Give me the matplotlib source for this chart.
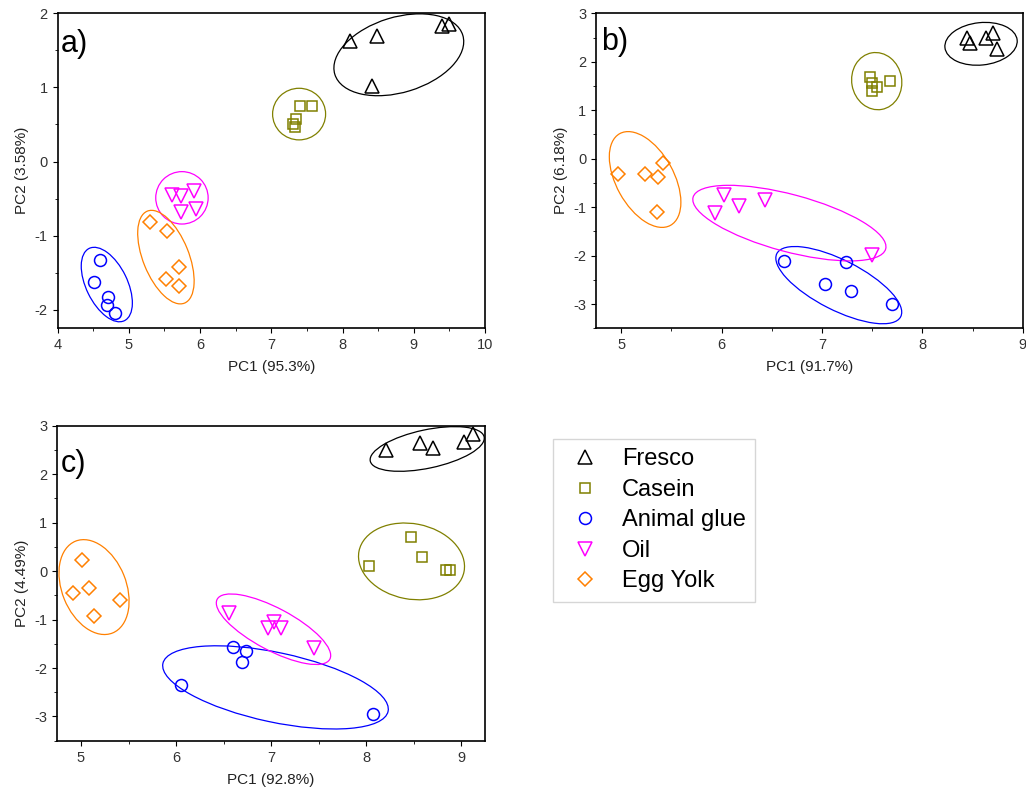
import matplotlib
matplotlib.use("Agg")
import matplotlib.pyplot as plt
from matplotlib.patches import Ellipse
from matplotlib.lines import Line2D
from matplotlib.transforms import Affine2D
from matplotlib.ticker import MultipleLocator

plt.rcParams.update({
    'font.family': ['Liberation Sans', 'DejaVu Sans'],
    'font.size': 10,
    'axes.linewidth': 1.2,
    'axes.unicode_minus': False,
    'xtick.direction': 'out',
    'ytick.direction': 'out',
    'xtick.major.size': 3.6,
    'ytick.major.size': 3.6,
    'xtick.minor.size': 2.2,
    'ytick.minor.size': 2.2,
    'xtick.labelsize': 10.5,
    'ytick.labelsize': 10.5,
    'xtick.labelcolor': '#333333',
    'ytick.labelcolor': '#333333',
})

groups = ['Fresco', 'Casein', 'Animal glue', 'Oil', 'Egg Yolk']
colors = ['#000000', '#808000', '#0000ff', '#ff00ff', '#ff8000']
markers = ['^', 's', 'o', 'v', 'D']
msizes = [9.4, 7.4, 8.6, 9.4, 7.4]

# ---- panel a: PC scores ----
a_x = {
    'Fresco': [8.10, 8.49, 8.42, 9.39, 9.49],
    'Casein': [7.40, 7.57, 7.35, 7.31, 7.33],
    'Animal glue': [4.59, 4.51, 4.70, 4.69, 4.81],
    'Oil': [5.61, 5.73, 5.92, 5.73, 5.94],
    'Egg Yolk': [5.30, 5.53, 5.71, 5.52, 5.70],
}
a_y = {
    'Fresco': [1.62, 1.70, 1.02, 1.83, 1.86],
    'Casein': [0.75, 0.75, 0.57, 0.50, 0.47],
    'Animal glue': [-1.33, -1.63, -1.83, -1.93, -2.05],
    'Oil': [-0.45, -0.46, -0.40, -0.68, -0.64],
    'Egg Yolk': [-0.81, -0.94, -1.43, -1.58, -1.68],
}
# ellipses: centre (data), semi-axes (px), angle (deg)
a_ell = {
    'Fresco': (8.79, 1.44, 66.9, 37.6, 17),
    'Casein': (7.39, 0.64, 26.5, 25.8, 0),
    'Animal glue': (4.69, -1.66, 40.2, 20.6, -64),
    'Oil': (5.745, -0.49, 26.2, 26.2, 0),
    'Egg Yolk': (5.52, -1.29, 49.6, 22.9, -68),
}

# ---- panel b ----
b_x = {
    'Fresco': [8.45, 8.475, 8.635, 8.70, 8.745],
    'Casein': [7.48, 7.50, 7.55, 7.50, 7.68],
    'Animal glue': [6.62, 7.03, 7.24, 7.29, 7.70],
    'Oil': [5.94, 6.02, 6.17, 6.43, 7.50],
    'Egg Yolk': [4.97, 5.24, 5.37, 5.42, 5.36],
}
b_y = {
    'Fresco': [2.50, 2.38, 2.50, 2.59, 2.26],
    'Casein': [1.68, 1.56, 1.47, 1.40, 1.61],
    'Animal glue': [-2.11, -2.59, -2.13, -2.73, -3.00],
    'Oil': [-1.12, -0.74, -0.98, -0.85, -1.99],
    'Egg Yolk': [-0.32, -0.32, -0.37, -0.08, -1.10],
}
b_ell = {
    'Fresco': (8.585, 2.37, 36.3, 21.2, 6),
    'Casein': (7.546, 1.60, 25.0, 28.7, 10),
    'Animal glue': (7.168, -2.61, 69.5, 25.0, -27),
    'Oil': (6.676, -1.33, 99.7, 28.6, -15),
    'Egg Yolk': (5.239, -0.43, 52.4, 28.8, -61),
}

# ---- panel c ----
c_x = {
    'Fresco': [8.21, 8.57, 8.70, 9.03, 9.12],
    'Casein': [8.47, 8.59, 8.03, 8.84, 8.88],
    'Animal glue': [6.05, 6.60, 6.74, 6.69, 8.07],
    'Oil': [6.56, 6.97, 7.03, 7.10, 7.45],
    'Egg Yolk': [5.01, 4.92, 5.08, 5.14, 5.41],
}
c_y = {
    'Fresco': [2.49, 2.65, 2.55, 2.67, 2.82],
    'Casein': [0.71, 0.29, 0.11, 0.02, 0.02],
    'Animal glue': [-2.35, -1.56, -1.65, -1.87, -2.95],
    'Oil': [-0.86, -1.17, -1.06, -1.17, -1.59],
    'Egg Yolk': [0.23, -0.46, -0.34, -0.92, -0.60],
}
c_ell = {
    'Fresco': (8.642, 2.52, 58.2, 19.2, 12),
    'Casein': (8.477, 0.20, 53.5, 37.7, -11),
    'Animal glue': (7.046, -2.40, 115.1, 34.8, -12),
    'Oil': (7.025, -1.20, 63.8, 21.1, -28),
    'Egg Yolk': (5.137, -0.33, 49.5, 32.1, -68),
}

panels = [
    ('a)', (0.008, 0.878), [0.0562, 0.585, 0.4165, 0.3982], a_x, a_y, a_ell,
     (4, 10), (-2.25, 2), 'PC1 (95.3%)', 'PC2 (3.58%)'),
    ('b)', (0.011, 0.883), [0.5809, 0.585, 0.4159, 0.3982], b_x, b_y, b_ell,
     (4.75, 9), (-3.5, 3), 'PC1 (91.7%)', 'PC2 (6.18%)'),
    ('c)', (0.008, 0.854), [0.0558, 0.0636, 0.4169, 0.3982], c_x, c_y, c_ell,
     (4.75, 9.25), (-3.5, 3), 'PC1 (92.8%)', 'PC2 (4.49%)'),
]

fig = plt.figure(figsize=(10.26, 7.91), dpi=100)

for tag, tpos, rect, px, py, ell, xl, yl, xlab, ylab in panels:
    ax = fig.add_axes(rect)
    ax.set_xlim(*xl)
    ax.set_ylim(*yl)
    ax.xaxis.set_major_locator(MultipleLocator(1))
    ax.xaxis.set_minor_locator(MultipleLocator(0.5))
    ax.yaxis.set_major_locator(MultipleLocator(1))
    ax.yaxis.set_minor_locator(MultipleLocator(0.5))
    ax.set_xlabel(xlab, fontsize=11, color='#222222', labelpad=6)
    ax.set_ylabel(ylab, fontsize=11, color='#222222', labelpad=4)
    ax.text(tpos[0], tpos[1], tag, transform=ax.transAxes, fontsize=22,
            va='baseline', ha='left')

    # pixels per data unit, so the ellipses can be given in screen units
    kx = ax.bbox.width / (xl[1] - xl[0])
    ky = ax.bbox.height / (yl[1] - yl[0])
    for g, col, mk, ms in zip(groups, colors, markers, msizes):
        ax.plot(px[g], py[g], linestyle='none', marker=mk, ms=ms, mfc='none',
                mec=col, mew=1.1, zorder=3)
        cx, cy, sa, sb, ang = ell[g]
        tr = Affine2D().scale(1 / kx, 1 / ky).translate(cx, cy) + ax.transData
        ax.add_patch(Ellipse((0, 0), 2 * sa, 2 * sb, angle=ang, transform=tr,
                             fill=False, edgecolor=col, lw=0.9, zorder=2))

handles = [Line2D([], [], linestyle='none', marker=mk, ms=ms, mfc='none', mec=col, mew=1.1)
           for col, mk, ms in zip(colors, markers, msizes)]
leg = fig.legend(handles, groups, loc='upper left', bbox_to_anchor=(553 / 1026, 1 - 439 / 791),
                 fontsize=17, frameon=True, fancybox=False, edgecolor='#cccccc',
                 borderpad=0.4, labelspacing=0.36, handletextpad=0.62, handlelength=1.9,
                 borderaxespad=0)
leg.get_frame().set_linewidth(1.0)

fig.savefig('out.png', dpi=100)
